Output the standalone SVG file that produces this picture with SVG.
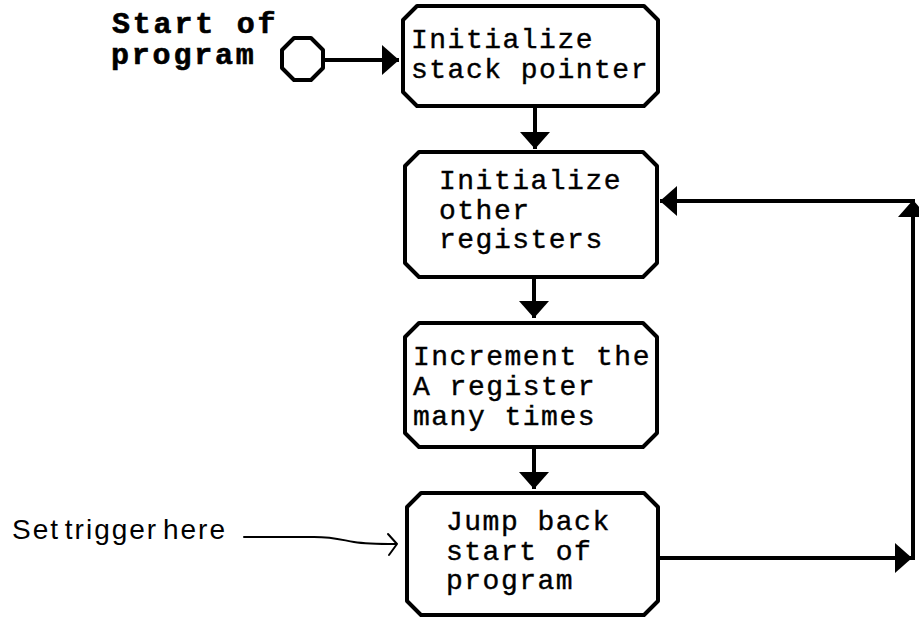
<svg xmlns="http://www.w3.org/2000/svg" width="919" height="617" viewBox="0 0 919 617">
  <style>
    .box { fill: #fff; stroke: #000; stroke-width: 4; stroke-linejoin: round; }
    .wire { fill: none; stroke: #000; stroke-width: 4; }
    .thin { fill: none; stroke: #000; stroke-width: 2; stroke-linecap: round; stroke-linejoin: round; }
    .label { font-family: "Liberation Mono", "Courier New", monospace; font-size: 28px; letter-spacing: 1.5px; fill: #000; stroke: #000; stroke-width: 0.4px; }
    .title { font-family: "Liberation Mono", "Courier New", monospace; font-size: 30px; font-weight: bold; letter-spacing: 2.8px; fill: #000; stroke: #000; stroke-width: 0.6px; }
    .note { font-family: "Liberation Sans", Arial, sans-serif; font-size: 28px; letter-spacing: 2px; word-spacing: -5px; fill: #000; }
  </style>
  <defs>
    <marker id="head" viewBox="0 0 17 30" refX="17" refY="15" markerWidth="17" markerHeight="30" markerUnits="userSpaceOnUse" orient="auto">
      <path d="M0,0 L17,15 L0,30 Z" fill="#000"/>
    </marker>
  </defs>
  <rect width="919" height="617" fill="#fff"/>

  <!-- entry point -->
  <g id="start">
    <text class="title" x="112" y="33">Start of</text>
    <text class="title" x="111" y="64">program</text>
    <polygon class="box" points="294,38 311,38 323,50 323,68 311,80 294,80 282,68 282,50"/>
  </g>

  <g id="init-sp">
    <path class="box" d="M417,6 H644 L658,20 V92 L644,106 H417 L403,92 V20 Z"/>
    <text class="label" x="411" y="48">Initialize</text>
    <text class="label" x="411" y="78">stack pointer</text>
  </g>

  <g id="init-regs">
    <path class="box" d="M419,152 H643 L657,166 V263 L643,277 H419 L405,263 V166 Z"/>
    <text class="label" x="439" y="189">Initialize</text>
    <text class="label" x="439" y="219">other</text>
    <text class="label" x="439" y="248">registers</text>
  </g>

  <g id="increment">
    <path class="box" d="M419,323 H643 L657,337 V433 L643,447 H419 L405,433 V337 Z"/>
    <text class="label" x="413" y="365">Increment the</text>
    <text class="label" x="413" y="395">A register</text>
    <text class="label" x="413" y="425">many times</text>
  </g>

  <g id="jump">
    <path class="box" d="M421,493 H644 L658,507 V601 L644,615 H421 L407,601 V507 Z"/>
    <text class="label" x="446" y="530">Jump back</text>
    <text class="label" x="446" y="560">start of</text>
    <text class="label" x="446" y="589">program</text>
  </g>

  <g id="trigger-note">
    <text class="note" x="12" y="539">Set trigger here</text>
  </g>

  <g id="connectors">
    <path class="wire" d="M323,60 L399,60" marker-end="url(#head)"/>
    <path class="wire" d="M535,106 L535,149" marker-end="url(#head)"/>
    <path class="wire" d="M534,277 L534,318" marker-end="url(#head)"/>
    <path class="wire" d="M534,447 L534,489" marker-end="url(#head)"/>
    <path class="wire" d="M658,558 L912,558" marker-end="url(#head)"/>
    <path class="wire" d="M913,560 L913,200" marker-end="url(#head)"/>
    <path class="wire" d="M915,201 L660,201" marker-end="url(#head)"/>
    <path class="thin" d="M244,537 L314,537 C334,537 342,540 354,542 C366,544 378,544 396,544"/>
    <path class="thin" d="M388,534 L397,544 L389,555"/>
  </g>
</svg>
